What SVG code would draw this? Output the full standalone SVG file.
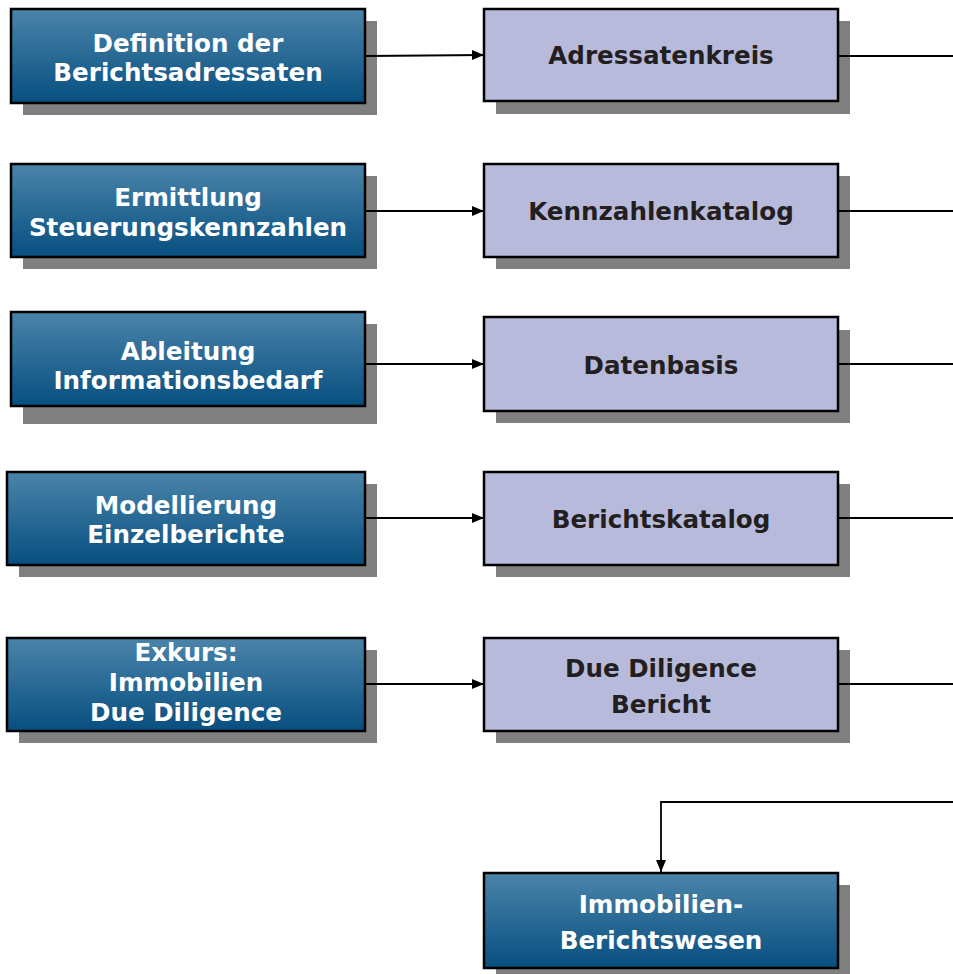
<svg xmlns="http://www.w3.org/2000/svg" width="953" height="974" viewBox="0 0 953 974">
<defs>
<linearGradient id="blue" x1="0" y1="0" x2="0" y2="1">
<stop offset="0" stop-color="#4b84aa"/>
<stop offset="1" stop-color="#074f80"/>
</linearGradient>
<marker id="ah" markerWidth="12" markerHeight="12" refX="12" refY="6" orient="auto" markerUnits="userSpaceOnUse">
<path d="M0,1 L12,6 L0,11 Z" fill="#000"/>
</marker>
</defs>
<style>
.sh{fill:#808080}
.b{fill:url(#blue);stroke:#000;stroke-width:2.5}
.l{fill:#b8badb;stroke:#000;stroke-width:2.5}
.tw{font-family:"DejaVu Sans",Verdana,sans-serif;font-weight:bold;font-size:24.6px;fill:#fff;text-anchor:middle}
.td{font-family:"DejaVu Sans",Verdana,sans-serif;font-weight:bold;font-size:24.6px;fill:#231f20;text-anchor:middle}
.c{fill:none;stroke:#000;stroke-width:1.8}
</style>
<g id="n1">
<rect class="sh" x="23" y="21" width="354" height="94"/>
<rect class="b" x="11" y="9" width="354" height="94"/>
<text class="tw" x="188" y="52">Definition der</text>
<text class="tw" x="188" y="81">Berichtsadressaten</text>
</g>
<g id="n2">
<rect class="sh" x="496" y="21" width="354" height="93"/>
<rect class="l" x="484" y="9" width="354" height="92"/>
<text class="td" x="661" y="64">Adressatenkreis</text>
</g>
<g id="n3">
<rect class="sh" x="23" y="176" width="354" height="93"/>
<rect class="b" x="11" y="164" width="354" height="93"/>
<text class="tw" x="188" y="206">Ermittlung</text>
<text class="tw" x="188" y="236">Steuerungskennzahlen</text>
</g>
<g id="n4">
<rect class="sh" x="496" y="176" width="354" height="93"/>
<rect class="l" x="484" y="164" width="354" height="93"/>
<text class="td" x="661" y="220">Kennzahlenkatalog</text>
</g>
<g id="n5">
<rect class="sh" x="23" y="324" width="354" height="100"/>
<rect class="b" x="11" y="312" width="354" height="94"/>
<text class="tw" x="188" y="360">Ableitung</text>
<text class="tw" x="188" y="389">Informationsbedarf</text>
</g>
<g id="n6">
<rect class="sh" x="496" y="330" width="354" height="93"/>
<rect class="l" x="484" y="317" width="354" height="94"/>
<text class="td" x="661" y="374">Datenbasis</text>
</g>
<g id="n7">
<rect class="sh" x="19" y="484" width="358" height="93"/>
<rect class="b" x="7" y="472" width="358" height="93"/>
<text class="tw" x="186" y="514">Modellierung</text>
<text class="tw" x="186" y="543">Einzelberichte</text>
</g>
<g id="n8">
<rect class="sh" x="496" y="484" width="354" height="93"/>
<rect class="l" x="484" y="472" width="354" height="93"/>
<text class="td" x="661" y="528">Berichtskatalog</text>
</g>
<g id="n9">
<rect class="sh" x="19" y="650" width="358" height="93"/>
<rect class="b" x="7" y="638" width="358" height="93"/>
<text class="tw" x="186" y="661">Exkurs:</text>
<text class="tw" x="186" y="691">Immobilien</text>
<text class="tw" x="186" y="721">Due Diligence</text>
</g>
<g id="n10">
<rect class="sh" x="496" y="650" width="354" height="93"/>
<rect class="l" x="484" y="638" width="354" height="93"/>
<text class="td" x="661" y="677">Due Diligence</text>
<text class="td" x="661" y="713">Bericht</text>
</g>
<g id="n11">
<rect class="sh" x="496" y="885" width="354" height="89"/>
<rect class="b" x="484" y="873" width="354" height="95"/>
<text class="tw" x="661" y="913">Immobilien-</text>
<text class="tw" x="661" y="949">Berichtswesen</text>
</g>
<g id="connectors">
<line class="c" x1="366" y1="56" x2="484" y2="55" marker-end="url(#ah)"/>
<line class="c" x1="839" y1="56" x2="953" y2="56"/>
<line class="c" x1="366" y1="211" x2="484" y2="211" marker-end="url(#ah)"/>
<line class="c" x1="839" y1="211" x2="953" y2="211"/>
<line class="c" x1="366" y1="364" x2="484" y2="364" marker-end="url(#ah)"/>
<line class="c" x1="839" y1="364" x2="953" y2="364"/>
<line class="c" x1="366" y1="518" x2="484" y2="518" marker-end="url(#ah)"/>
<line class="c" x1="839" y1="518" x2="953" y2="518"/>
<line class="c" x1="366" y1="684" x2="484" y2="684" marker-end="url(#ah)"/>
<line class="c" x1="839" y1="684" x2="953" y2="684"/>
<polyline class="c" points="953,802 661,802 661,872" marker-end="url(#ah)"/>
</g>
</svg>
